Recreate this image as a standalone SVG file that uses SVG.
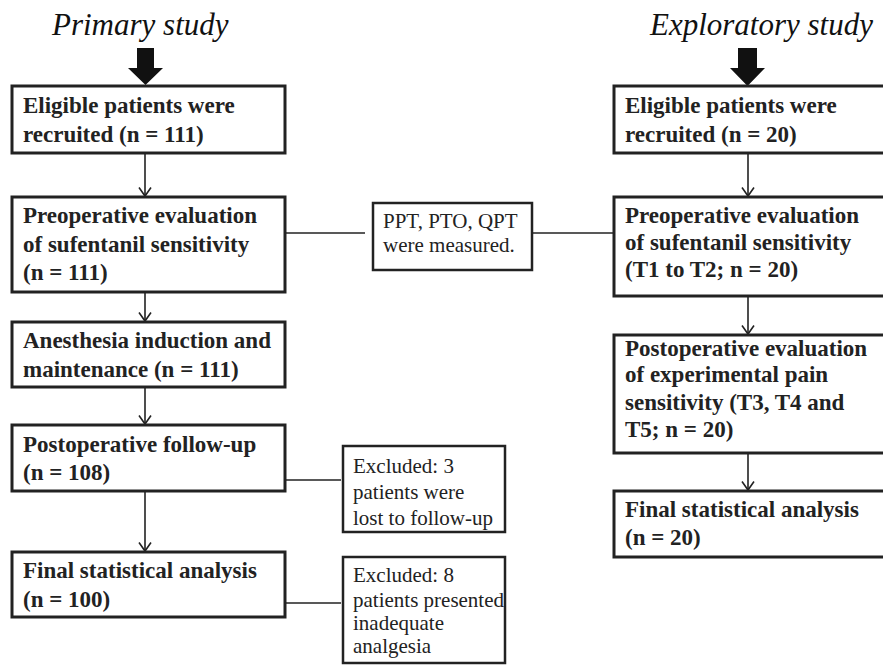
<svg xmlns="http://www.w3.org/2000/svg" width="883" height="667" viewBox="0 0 883 667">
<defs>
<marker id="ah" markerWidth="12" markerHeight="14" refX="10.5" refY="7" orient="auto" markerUnits="userSpaceOnUse" viewBox="0 0 12 14">
<path d="M2,1 L10.5,7 L2,13" fill="none" stroke="#222" stroke-width="1.6"/>
</marker>
</defs>
<style>
.box{fill:#fff;stroke:#222;stroke-width:3}
.sbox{fill:#fff;stroke:#222;stroke-width:2.5}
.b{font-family:"Liberation Serif","Times New Roman",serif;font-weight:700;font-size:23px;fill:#222}
.r{font-family:"Liberation Serif","Times New Roman",serif;font-size:21px;fill:#222}
.t{font-family:"Liberation Serif","Times New Roman",serif;font-style:italic;font-size:31px;fill:#111}
.c{stroke:#222;stroke-width:1.6;fill:none}
.big{fill:#111}
</style>
<rect width="883" height="667" fill="#fff"/>
<text class="t" x="52" y="35">Primary study</text>
<text class="t" x="650" y="35">Exploratory study</text>
<g id="connectors">
<path class="big" d="M137,48 H154 V68 H163 L145.5,85 L128,68 H137 Z"/>
<path class="big" d="M738,48 H757 V68 H765 L747.5,86 L730,68 H738 Z"/>
<line class="c" x1="145" y1="153" x2="145" y2="196" marker-end="url(#ah)"/>
<line class="c" x1="145" y1="292" x2="145" y2="321" marker-end="url(#ah)"/>
<line class="c" x1="145" y1="387" x2="145" y2="424" marker-end="url(#ah)"/>
<line class="c" x1="145" y1="491" x2="145" y2="551" marker-end="url(#ah)"/>
<line class="c" x1="748" y1="153" x2="748" y2="196" marker-end="url(#ah)"/>
<line class="c" x1="748" y1="296" x2="748" y2="334" marker-end="url(#ah)"/>
<line class="c" x1="748" y1="453" x2="748" y2="490" marker-end="url(#ah)"/>
<line class="c" x1="285" y1="233" x2="365" y2="233"/>
<line class="c" x1="533" y1="233" x2="614" y2="233"/>
<line class="c" x1="285" y1="480" x2="341" y2="480"/>
<line class="c" x1="285" y1="603" x2="341" y2="603"/>
</g>
<g id="p1"><rect class="box" x="12" y="86" width="273" height="67"/>
<text class="b" x="23" y="113">Eligible patients were</text><text class="b" x="23" y="142">recruited (n = 111)</text></g>
<g id="p2"><rect class="box" x="12" y="197" width="273" height="95"/>
<text class="b" x="23" y="223">Preoperative evaluation</text><text class="b" x="23" y="252">of sufentanil sensitivity</text><text class="b" x="23" y="280">(n = 111)</text></g>
<g id="p3"><rect class="box" x="12" y="322" width="273" height="65"/>
<text class="b" x="23" y="348">Anesthesia induction and</text><text class="b" x="23" y="377">maintenance (n = 111)</text></g>
<g id="p4"><rect class="box" x="12" y="425" width="273" height="66"/>
<text class="b" x="23" y="452">Postoperative follow-up</text><text class="b" x="23" y="480">(n = 108)</text></g>
<g id="p5"><rect class="box" x="12" y="552" width="273" height="65"/>
<text class="b" x="23" y="578">Final statistical analysis</text><text class="b" x="23" y="607">(n = 100)</text></g>
<g id="mid"><rect class="sbox" x="373" y="203" width="159" height="67"/>
<text class="r" x="383" y="228">PPT, PTO, QPT</text><text class="r" x="383" y="252">were measured.</text></g>
<g id="ex1"><rect class="sbox" x="343" y="446" width="162" height="86"/>
<text class="r" x="353" y="473">Excluded: 3</text><text class="r" x="353" y="499">patients were</text><text class="r" x="353" y="525">lost to follow-up</text></g>
<g id="ex2"><rect class="sbox" x="343" y="557" width="162" height="106"/>
<text class="r" x="353" y="582">Excluded: 8</text><text class="r" x="353" y="607">patients presented</text><text class="r" x="353" y="630">inadequate</text><text class="r" x="353" y="653">analgesia</text></g>
<g id="e1"><rect class="box" x="614" y="86" width="290" height="67"/>
<text class="b" x="625" y="113">Eligible patients were</text><text class="b" x="625" y="142">recruited (n = 20)</text></g>
<g id="e2"><rect class="box" x="614" y="197" width="290" height="99"/>
<text class="b" x="625" y="223">Preoperative evaluation</text><text class="b" x="625" y="250">of sufentanil sensitivity</text><text class="b" x="625" y="277">(T1 to T2; n = 20)</text></g>
<g id="e3"><rect class="box" x="614" y="335" width="290" height="118"/>
<text class="b" x="625" y="356">Postoperative evaluation</text><text class="b" x="625" y="382">of experimental pain</text><text class="b" x="625" y="410">sensitivity (T3, T4 and</text><text class="b" x="625" y="437">T5; n = 20)</text></g>
<g id="e4"><rect class="box" x="614" y="491" width="290" height="66"/>
<text class="b" x="625" y="517">Final statistical analysis</text><text class="b" x="625" y="545">(n = 20)</text></g>
</svg>
